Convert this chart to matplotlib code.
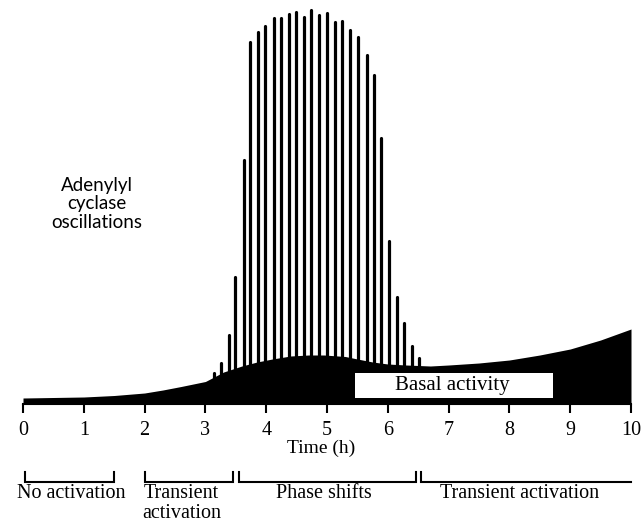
import matplotlib
matplotlib.use("Agg")
import matplotlib.pyplot as plt
from matplotlib.patches import Rectangle

# ---- data (heights in arbitrary units above baseline) ----
basal_t = [0, 0.5, 1.0, 1.5, 2.0, 2.3, 2.6, 3.0, 3.3, 3.6, 3.85, 4.1, 4.4, 4.7,
           4.95, 5.3, 5.5, 5.75, 6.0, 6.3, 6.7, 7.0, 7.5, 8.0, 8.5, 9.0, 9.5, 10.0]
basal_h = [6, 6.5, 7, 8.5, 11, 14, 17.5, 22.5, 32, 38, 42, 45, 48, 49,
           49, 47.5, 45, 42, 40, 39, 38, 39, 41, 44, 49, 55, 64, 75]

spike_t = [3.135, 3.257, 3.382, 3.493, 3.629, 3.740, 3.867, 3.987, 4.124, 4.245,
           4.371, 4.498, 4.618, 4.740, 4.865, 4.992, 5.129, 5.250, 5.376, 5.507,
           5.651, 5.771, 5.893, 6.018, 6.145, 6.265, 6.392, 6.512]
spike_h = [31, 41, 69, 127, 244, 362, 372, 378, 386, 386,
           390, 392, 387, 394, 389, 391, 382, 383, 374, 367,
           349, 329, 266, 163, 107, 81, 58, 46]

xticks = [0, 1, 2, 3, 4, 5, 6, 7, 8, 9, 10]
xtick_labels = ["0", "1", "2", "3", "4", "5", "6", "7", "8", "9", "10"]

phase_start = [0.03, 2.0, 3.56, 6.54]
phase_end = [1.5, 3.46, 6.46, 10.0]
phase_labels = [("No activation", 0.8, -89), ("Transient", 2.61, -89),
                ("activation", 2.61, -109), ("Phase shifts", 4.95, -89),
                ("Transient activation", 8.17, -89)]

serif = ["Liberation Serif", "DejaVu Serif"]

fig = plt.figure(figsize=(6.41, 5.30), dpi=100)
ax = fig.add_axes([23 / 641, (530 - 404) / 530, 608 / 641, 404 / 530])
ax.set_xlim(0, 10)
ax.set_ylim(0, 404)

ax.fill_between(basal_t, 0, basal_h, color="black", linewidth=0)
ax.vlines(spike_t, 0, spike_h, color="black", linewidth=2.3, capstyle="round")

# basal activity label box
ax.add_patch(Rectangle((5.46, 6), 8.72 - 5.46, 25, facecolor="white",
                       edgecolor="none", zorder=3))
ax.text(7.06, 18.5, "Basal activity", ha="center", va="center",
        fontsize=15, family=serif, zorder=4)

# oscillation label
for txt, yy in [("Adenylyl", 219), ("cyclase", 200.5), ("oscillations", 182)]:
    ax.text(1.22, yy, txt, ha="center", va="center", fontsize=13.5,
            family=["Lato", "DejaVu Sans"])

for s in ["top", "right", "left"]:
    ax.spines[s].set_visible(False)
ax.spines["bottom"].set_linewidth(1.5)
ax.set_yticks([])
ax.set_xticks(xticks)
ax.set_xticklabels(xtick_labels, family=serif, fontsize=14.5)
ax.tick_params(axis="x", direction="out", length=6.5, width=1.5, pad=6)

ax.text(4.9, -44, "Time (h)", ha="center", va="center", fontsize=14,
        family=serif, clip_on=False)

# brackets
yb, yt = -77.5, -68
for s, e in zip(phase_start, phase_end):
    xs = [s, s, e] if e >= 10 else [s, s, e, e]
    ys = [yt, yb, yb] if e >= 10 else [yt, yb, yb, yt]
    ax.plot(xs, ys, color="black", lw=1.5, clip_on=False, solid_joinstyle="miter")
for lab, c, yy in phase_labels:
    ax.text(c, yy, lab, ha="center", va="center",
            fontsize=14.5, family=serif, clip_on=False)

fig.savefig("out.png", dpi=100)
